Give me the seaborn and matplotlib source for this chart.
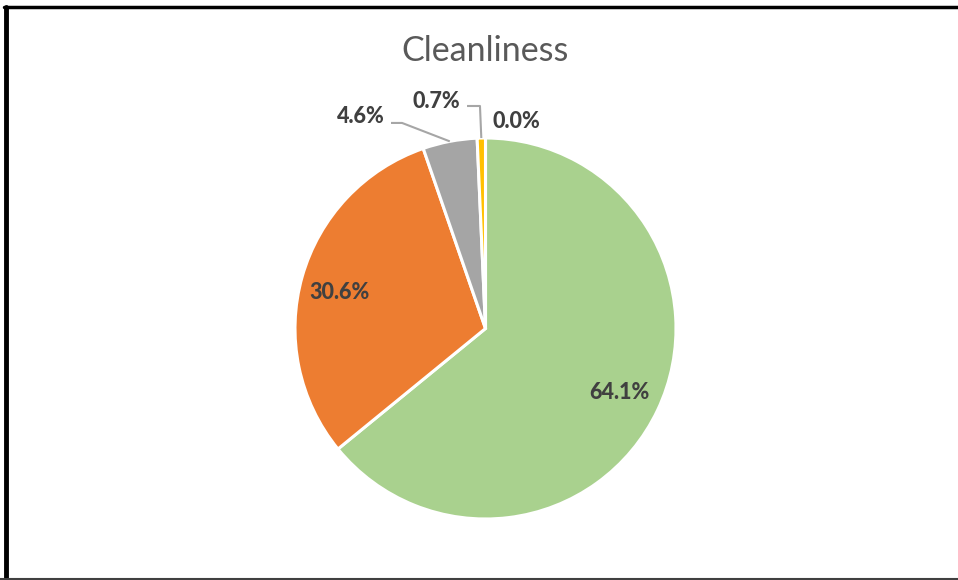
import numpy as np
import matplotlib
matplotlib.use("Agg")
import matplotlib.pyplot as plt
import seaborn as sns

# ---- data ----
categories = ["Excellent", "Good", "Average", "Poor", "Very poor"]
values = [64.1, 30.6, 4.6, 0.7, 0.0]
labels = ["64.1%", "30.6%", "4.6%", "0.7%", "0.0%"]
colors = ["#A9D18E", "#ED7D31", "#A5A5A5", "#FFC000", "#5B9BD5"]
title = "Cleanliness"

sns.set_theme(style="white")
plt.rcParams["font.family"] = ["Lato", "DejaVu Sans"]

W, H, DPI = 958, 580, 100
fig = plt.figure(figsize=(W / DPI, H / DPI), dpi=DPI)
fig.patch.set_facecolor("white")

# pie geometry (pixels)
cx, cy, R = 485.5, 328.5, 190.5
ax = fig.add_axes([0, 0, 1, 1])
wedges, _ = ax.pie(values, colors=colors, startangle=90, counterclock=False,
                   radius=1.0, wedgeprops=dict(edgecolor="white", linewidth=2.2))
ax.set_xlim(-cx / R, (W - cx) / R)
ax.set_ylim(-(H - cy) / R, cy / R)
ax.set_aspect("auto")
ax.axis("off")

txt_color = "#404040"
fs = 15.5
fw = 900

def mid_dir(w):
    a = np.deg2rad((w.theta1 + w.theta2) / 2)
    return np.cos(a), np.sin(a)

# inside labels (Excel best-fit positions, polar: radius fraction, angle deg)
inside = {0: (0.78, -25.6), 1: (0.79, 166.3)}
for i, (rf, ang) in inside.items():
    a = np.deg2rad(ang)
    ax.text(rf * np.cos(a), rf * np.sin(a), labels[i], ha="center", va="center",
            fontsize=fs, fontweight=fw, color=txt_color)

lead_color = "#A6A6A6"
# 4.6% label with leader
ux, uy = mid_dir(wedges[2])
ax.plot([-0.496, -0.438, ux], [1.079, 1.079, uy], color=lead_color, lw=1.5,
        clip_on=False, solid_capstyle="butt")
ax.text(-0.654, 1.115, labels[2], ha="center", va="center",
        fontsize=fs, fontweight=fw, color=txt_color)
# 0.7% label with leader
ux, uy = mid_dir(wedges[3])
ax.plot([-0.097, -0.029, ux], [1.168, 1.168, uy], color=lead_color, lw=1.5,
        clip_on=False, solid_capstyle="butt")
ax.text(-0.257, 1.189, labels[3], ha="center", va="center",
        fontsize=fs, fontweight=fw, color=txt_color)
# 0.0% label
ax.text(0.160, 1.089, labels[4], ha="center", va="center",
        fontsize=fs, fontweight=fw, color=txt_color)

# title
fig.text(485.5 / W, 1 - 51 / H, title, ha="center", va="center",
         fontsize=24.5, color="#595959")

# border
fig.add_artist(plt.Line2D([5.5 / W, 5.5 / W], [0, 1 - 7 / H], color="black",
                          lw=3.5, transform=fig.transFigure))
fig.add_artist(plt.Line2D([4 / W, 1], [1 - 7 / H, 1 - 7 / H], color="black",
                          lw=2.5, transform=fig.transFigure))
fig.add_artist(plt.Line2D([0, 1], [1.2 / H, 1.2 / H], color="#404040",
                          lw=1.5, transform=fig.transFigure))

fig.savefig("out.png", dpi=DPI, facecolor="white")
